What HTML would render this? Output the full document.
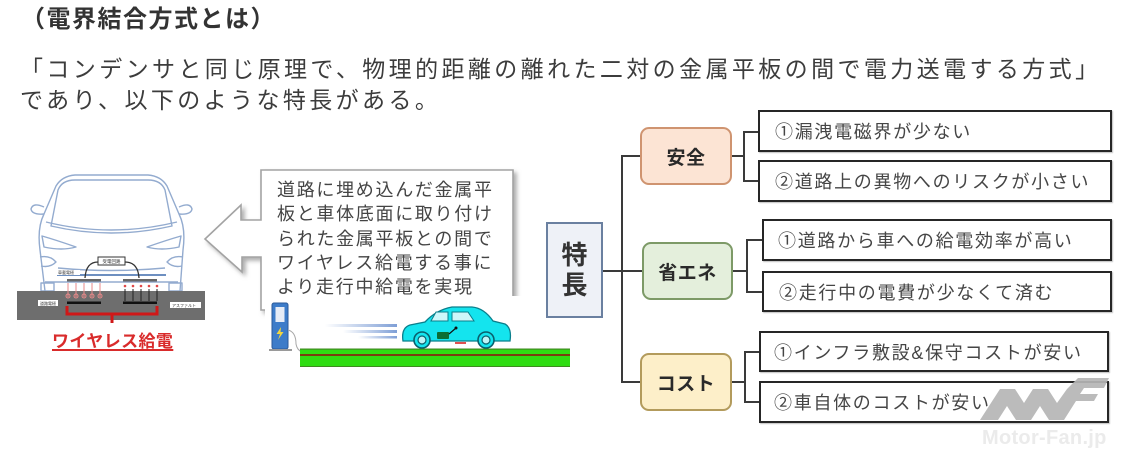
<!DOCTYPE html>
<html lang="ja">
<head>
<meta charset="utf-8">
<style>
  html,body{margin:0;padding:0;background:#fff;}
  body{width:1123px;height:457px;position:relative;overflow:hidden;
       font-family:"Liberation Sans","Noto Sans CJK JP",sans-serif;color:#3a3a3a;}
  .abs{position:absolute;white-space:nowrap;}
  .h1{left:21px;top:5px;font-size:24px;line-height:30px;font-weight:bold;letter-spacing:1.5px;color:#333;}
  .t{left:20px;font-size:23px;line-height:30px;letter-spacing:3.4px;color:#3c3c3c;}
  .call{left:277px;top:178px;font-size:18px;line-height:24.3px;letter-spacing:1.7px;color:#444;}
  .box{position:absolute;box-sizing:border-box;border:2px solid #262626;background:#fff;
       font-size:18px;letter-spacing:1.7px;color:#454545;display:flex;align-items:center;white-space:nowrap;
       box-shadow:1px 1px 1px rgba(0,0,0,0.25);}
  .cat{position:absolute;box-sizing:border-box;border-radius:9px;border:2px solid;
       display:flex;align-items:center;justify-content:center;font-size:19px;font-weight:bold;color:#2a2a2a;letter-spacing:0.5px;}
  .feat{position:absolute;left:546px;top:222px;width:57px;height:96px;box-sizing:border-box;
        border:2px solid #6a80a0;background:#eef1f7;display:flex;align-items:center;justify-content:center;
        font-size:26px;line-height:30px;font-weight:bold;color:#333;text-align:center;}
  .red{left:52px;top:331px;font-size:17px;line-height:22px;font-weight:bold;color:#d92b2b;letter-spacing:0.4px;
       text-decoration:underline;text-decoration-thickness:2px;text-underline-offset:2px;}
  svg{position:absolute;left:0;top:0;}
</style>
</head>
<body>

<svg width="1123" height="457" viewBox="0 0 1123 457">
  <defs>
    <filter id="sh" x="-10%" y="-10%" width="130%" height="130%">
      <feDropShadow dx="3" dy="3" stdDeviation="2" flood-color="#777" flood-opacity="0.6"/>
    </filter>
    <linearGradient id="spd" x1="0" x2="1" y1="0" y2="0">
      <stop offset="0" stop-color="#7f9fd6" stop-opacity="0"/>
      <stop offset="1" stop-color="#7f9fd6" stop-opacity="1"/>
    </linearGradient>
  </defs>

  <!-- ===== Car front view ===== -->
  <g fill="none" stroke="#93abcf" stroke-width="1.4" stroke-linejoin="round">
    <path d="M45,291 L40,250 Q37,228 44,214 L56,186 Q62,176 75,175 L148,175 Q161,176 167,186 L179,214 Q186,228 183,250 L180,291"/>
    <path d="M44,207 Q33,202 31,209 Q32,215 44,214"/>
    <path d="M179,207 Q190,202 192,209 Q191,215 179,214"/>
    <path d="M58,190 Q62,180 75,180 L148,180 Q161,180 165,190 L172,226 Q111,240 51,226 Z"/>
    <path d="M46,222 Q111,238 177,222"/>
    <path d="M42,236 Q56,240 76,247 Q62,251 44,247 Z"/>
    <path d="M181,236 Q167,240 147,247 Q161,251 179,247 Z"/>
    <path d="M40,257 Q50,255 56,262 Q50,268 41,266"/>
    <path d="M183,257 Q173,255 167,262 Q173,268 182,266"/>
    <path d="M45,282 H178"/>
    <path d="M58,268 Q111,273 165,268"/>
    <rect x="41" y="283" width="13" height="8"/>
    <rect x="169" y="283" width="13" height="8"/>
  </g>
  <!-- floor line -->
  <path d="M57,275 H166" stroke="#6d8fc0" stroke-width="2"/>
  <!-- receiver box + wires -->
  <path d="M98,262 Q86,262 85,278 M125,262 Q138,262 139,278" fill="none" stroke="#333" stroke-width="1.3"/>
  <rect x="98" y="257" width="27" height="8" fill="#fff" stroke="#333" stroke-width="1"/>
  <text x="111.5" y="263" font-size="4.5" text-anchor="middle" fill="#333">受電回路</text>
  <rect x="56" y="270" width="24" height="5" fill="#fff"/>
  <text x="58" y="274" font-size="4" fill="#333">車載電極</text>
  <!-- upper plates -->
  <rect x="67" y="279" width="34" height="2.5" fill="#666"/>
  <rect x="123" y="279" width="34" height="2.5" fill="#666"/>

  <!-- road slab -->
  <rect x="17" y="291" width="188" height="29" fill="#6e6e6e"/>
  <!-- field lines -->
  <g stroke="#e88a8a" stroke-width="1" fill="none">
    <path d="M68,283 V297 M76,283 V297 M84,283 V297 M92,283 V297 M100,283 V297"/>
    <circle cx="68" cy="296" r="2"/><circle cx="76" cy="296" r="2"/><circle cx="84" cy="296" r="2"/><circle cx="92" cy="296" r="2"/><circle cx="100" cy="296" r="2"/>
  </g>
  <g stroke="#222" stroke-width="1">
    <path d="M125,289 V301 M133,289 V301 M141,289 V301 M149,289 V301 M157,289 V301"/>
  </g>
  <g fill="#e04848">
    <circle cx="125" cy="286" r="1.3"/><circle cx="133" cy="286" r="1.3"/><circle cx="141" cy="286" r="1.3"/><circle cx="149" cy="286" r="1.3"/><circle cx="157" cy="286" r="1.3"/>
  </g>
  <!-- lower plates -->
  <rect x="67" y="301.5" width="34" height="2.5" fill="#111"/>
  <rect x="123" y="301.5" width="34" height="2.5" fill="#111"/>
  <!-- labels -->
  <rect x="38" y="300" width="20" height="6" fill="#fff"/>
  <text x="40" y="305" font-size="4" fill="#333">道路電極</text>
  <rect x="170" y="302" width="31" height="6" fill="#fff"/>
  <text x="172" y="307" font-size="4" fill="#333">アスファルト</text>
  <!-- red bracket -->
  <path d="M67,306 V314 H157 V306 M112,314 V323" fill="none" stroke="#d01818" stroke-width="3"/>

  <!-- ===== Callout arrow ===== -->
  <path d="M261,170 H513 V310 H261 V257 H242 V272 L205,239 L241,205 V220 H261 Z"
        fill="#fff" stroke="#a3a3a3" stroke-width="1.6" filter="url(#sh)"/>
  <!-- overlay picture background -->
  <rect x="265" y="296" width="280" height="78" fill="#fff"/>

  <!-- charger -->
  <rect x="272" y="303" width="16" height="46" rx="2" fill="#3d7cc9" stroke="#2a5a9a" stroke-width="1"/>
  <rect x="275.5" y="307" width="9" height="15" fill="#e6ecf6"/>
  <polygon points="281,327 276.5,334 280,334 278,340 283.5,332 280.5,332" fill="#f2d640"/>
  <path d="M269,350 H292" stroke="#9a9a9a" stroke-width="2"/>
  <path d="M288,330 Q296,332 296,344 Q297,350 302,352" fill="none" stroke="#a8a8a8" stroke-width="1"/>

  <!-- speed lines -->
  <rect x="325" y="324" width="72" height="3" fill="url(#spd)"/>
  <rect x="343" y="330" width="54" height="3" fill="url(#spd)"/>
  <rect x="358" y="336" width="39" height="2.5" fill="url(#spd)"/>

  <!-- road -->
  <rect x="300" y="349" width="270" height="18" fill="#2fdc12"/>
  <rect x="300" y="348.5" width="270" height="1.2" fill="#3f8a20"/>
  <rect x="300" y="354" width="270" height="2" fill="#7a3c10"/>
  <rect x="300" y="366" width="270" height="1" fill="#3f8a20"/>

  <!-- side car -->
  <path d="M403,341 Q401,328 410,325 L425,322 Q436,310 452,307 L472,307 Q484,308 493,321 L505,324 Q512,328 510,341 Z"
        fill="#14e4ee" stroke="#0a7f8c" stroke-width="1.3"/>
  <path d="M431,321 L436,312 L448,312 L448,321 Z" fill="#cdf7fa" stroke="#0a7f8c" stroke-width="1"/>
  <path d="M452,312 L468,312 L474,321 L452,321 Z" fill="#cdf7fa" stroke="#0a7f8c" stroke-width="1"/>
  <circle cx="422" cy="340" r="8" fill="#14e4ee" stroke="#0a5f6c" stroke-width="1.6"/>
  <circle cx="422" cy="340" r="4" fill="#bff4f7" stroke="#0a5f6c" stroke-width="1.2"/>
  <circle cx="486" cy="340" r="8" fill="#14e4ee" stroke="#0a5f6c" stroke-width="1.6"/>
  <circle cx="486" cy="340" r="4" fill="#bff4f7" stroke="#0a5f6c" stroke-width="1.2"/>
  <rect x="437" y="332" width="12" height="7" rx="1" fill="#0b6e35"/>
  <path d="M449,334 L456,328" stroke="#111" stroke-width="1.2"/>
  <circle cx="456" cy="328" r="1.5" fill="#111"/>
  <rect x="455" y="342" width="11" height="2" fill="#e05050"/>

  <!-- ===== Tree connectors ===== -->
  <g stroke="#3a3a3a" stroke-width="2" fill="none">
    <path d="M603,271 H642"/>
    <path d="M622,155 V383"/>
    <path d="M621,156 H640"/>
    <path d="M621,382 H640"/>
    <path d="M732,156 H744 M744,131 V182 M743,132 H758 M743,181 H758"/>
    <path d="M733,271 H747 M747,239 V293 M746,240 H762 M746,292 H762"/>
    <path d="M732,382 H745 M745,351 V403 M744,352 H759 M744,402 H759"/>
  </g>
</svg>

<!-- Header text -->
<div class="abs h1">（電界結合方式とは）</div>
<div class="abs t" style="top:54px;">「コンデンサと同じ原理で、物理的距離の離れた二対の金属平板の間で電力送電する方式」</div>
<div class="abs t" style="top:85px;">であり、以下のような特長がある。</div>

<!-- Callout text -->
<div class="abs call">道路に埋め込んだ金属平<br>板と車体底面に取り付け<br>られた金属平板との間で<br>ワイヤレス給電する事に<br>より走行中給電を実現</div>

<div class="abs red">ワイヤレス給電</div>

<!-- Feature tree -->
<div class="feat">特<br>長</div>

<div class="cat" style="left:640px;top:127px;width:92px;height:58px;background:#fce4d4;border-color:#cf9470;">安全</div>
<div class="cat" style="left:642px;top:242px;width:91px;height:58px;background:#e4efdc;border-color:#7d9a67;">省エネ</div>
<div class="cat" style="left:640px;top:353px;width:92px;height:58px;background:#fdefc9;border-color:#b39b5c;">コスト</div>

<div class="box" style="left:758px;top:110px;width:354px;height:42px;padding-left:15px;">①漏洩電磁界が少ない</div>
<div class="box" style="left:758px;top:160px;width:354px;height:42px;padding-left:15px;">②道路上の異物へのリスクが小さい</div>
<div class="box" style="left:762px;top:219px;width:350px;height:42px;padding-left:14px;">①道路から車への給電効率が高い</div>
<div class="box" style="left:762px;top:271px;width:350px;height:41px;padding-left:15px;">②走行中の電費が少なくて済む</div>
<div class="box" style="left:759px;top:331px;width:350px;height:41px;padding-left:13px;">①インフラ敷設&amp;保守コストが安い</div>
<div class="box" style="left:759px;top:381px;width:350px;height:42px;padding-left:13px;">②車自体のコストが安い</div>

<!-- Watermark -->
<svg width="1123" height="457" viewBox="0 0 1123 457">
  <polygon fill="#b5b5b5" fill-opacity="0.92"
    points="980,420 1000,389 1015,389 1024,403 1033,389 1048,389 1057,403 1067,389 1078,378 1109,378 1104,388 1084,388 1080,394 1098,394 1094,401 1076,401 1064,420 1049,420 1040,406 1031,420 1016,420 1007,406 998,420"/>
  <text x="982" y="444" font-family="Liberation Sans, sans-serif" font-weight="bold" font-size="20" fill="#ebebeb" letter-spacing="0.3">Motor-Fan.jp</text>
</svg>

</body>
</html>
